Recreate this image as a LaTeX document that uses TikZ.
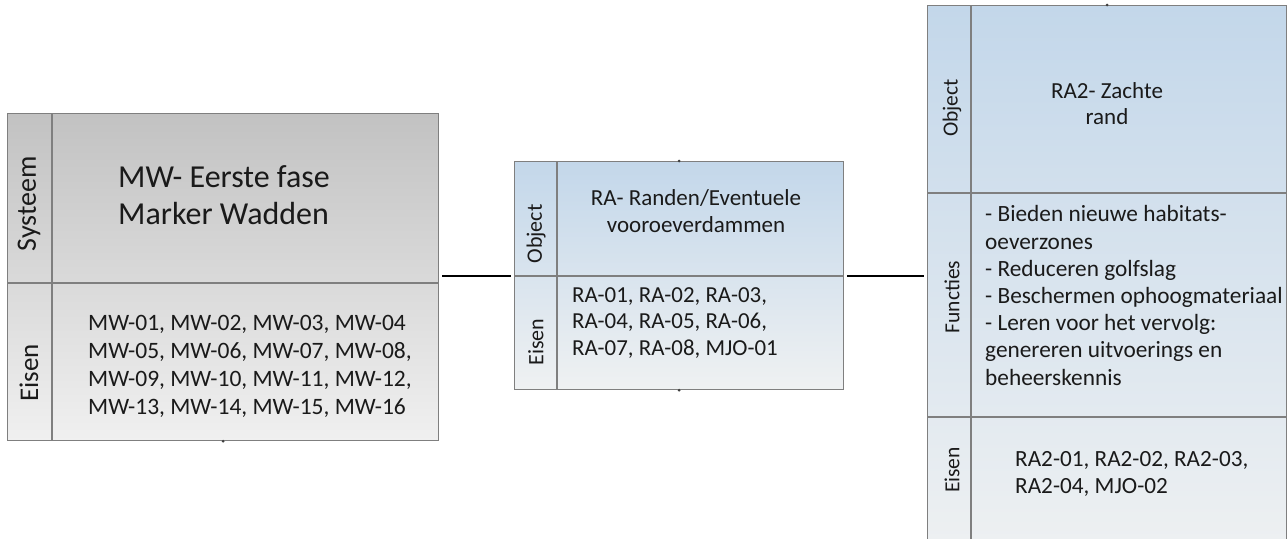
\documentclass[tikz,border=0pt]{standalone}
\usepackage{fontspec}
\setmainfont{Carlito}
\usetikzlibrary{positioning}

\definecolor{mwtop}{HTML}{C2C2C2}
\definecolor{mwbot}{HTML}{F0F0F0}
\definecolor{ratop}{HTML}{C3D7EA}
\definecolor{rabot}{HTML}{EFF1F2}
\definecolor{edge}{HTML}{7F7F7F}
\definecolor{ink}{HTML}{1A1A1A}

\begin{document}
\begin{tikzpicture}[x=1pt, y=-1pt,
    box/.style = {draw=edge, line width=1.2pt, inner sep=0pt, anchor=north west},
    divider/.style = {draw=edge, line width=1.2pt},
    link/.style = {draw=black, line width=2.2pt, shorten <=3pt, shorten >=3pt},
    side/.style = {rotate=90, text=ink, inner sep=0pt},
    txt/.style = {text=ink, inner sep=0pt, anchor=base west, align=left},
    handle/.style = {circle, fill=black!75, inner sep=0pt, minimum size=3pt}]
    \useasboundingbox (0,0) rectangle (1287,538);
    \clip (0,0) rectangle (1287,538);

    % boxes
    \node[box, top color=mwtop, bottom color=mwbot, minimum width=431pt, minimum height=327pt] (mw) at (7,113) {};
    \node[box, top color=ratop, bottom color=rabot, minimum width=329pt, minimum height=228pt] (ra) at (514,161) {};
    \node[box, top color=ratop, bottom color=rabot, minimum width=359pt, minimum height=560pt] (ra2) at (927,5) {};

    \draw[divider] (52,113) -- (52,440);
    \draw[divider] (7,283) -- (438,283);
    \draw[divider] (557,161) -- (557,389);
    \draw[divider] (514,276) -- (843,276);
    \draw[divider] (971,5) -- (971,565);
    \draw[divider] (927,193) -- (1286,193);
    \draw[divider] (927,417) -- (1286,417);

    \node[handle] at (mw.south) {};
    \node[handle] at (ra.north) {};
    \node[handle] at (ra.south) {};
    \node[handle] at (ra2.north) {};

    % side labels
    \node[side, font=\fontsize{28}{32}\selectfont] (mwsys) at (29,204) {Systeem};
    \node[side, font=\fontsize{27}{32}\selectfont] (mweis) at (29,373) {Eisen};
    \node[side, font=\fontsize{22}{26}\selectfont] (raobj) at (536,234) {Object};
    \node[side, font=\fontsize{22}{26}\selectfont] (raeis) at (536,342) {Eisen};
    \node[side, font=\fontsize{21.5}{25}\selectfont] (ra2obj) at (952,108) {Object};
    \node[side, font=\fontsize{21.5}{25}\selectfont] (ra2fun) at (952,297) {Functies};
    \node[side, font=\fontsize{21.5}{25}\selectfont] (ra2eis) at (952,470) {Eisen};

    % texts
    \node[txt, font=\fontsize{32}{37}\selectfont] (mwname) at (118,224) {MW- Eerste fase\\Marker Wadden};
    \node[txt, font=\fontsize{23.5}{27.7}\selectfont] (mwreq) at (88,414)
        {MW-01, MW-02, MW-03, MW-04\\MW-05, MW-06, MW-07, MW-08,\\MW-09, MW-10, MW-11, MW-12,\\MW-13, MW-14, MW-15, MW-16};
    \node[txt, anchor=base, align=center, font=\fontsize{23}{27}\selectfont] (raname) at (696,232) {RA- Randen/Eventuele\\vooroeverdammen};
    \node[txt, font=\fontsize{22.9}{26.5}\selectfont] (rareq) at (572,355) {RA-01, RA-02, RA-03,\\RA-04, RA-05, RA-06,\\RA-07, RA-08, MJO-01};
    \node[txt, anchor=base, align=center, font=\fontsize{23}{25.5}\selectfont] (ra2name) at (1107,124) {RA2- Zachte\\rand};
    \node[txt, font=\fontsize{23.3}{27.2}\selectfont] (ra2fn) at (985,385)
        {- Bieden nieuwe habitats-\\oeverzones\\- Reduceren golfslag\\- Beschermen ophoogmateriaal\\- Leren voor het vervolg:\\genereren uitvoerings en\\beheerskennis};
    \node[txt, font=\fontsize{23.2}{26.5}\selectfont] (ra2req) at (1015,493) {RA2-01, RA2-02, RA2-03,\\RA2-04, MJO-02};

    % connectors
    \draw[link] (mw.east |- ra.west) -- (ra.west);
    \draw[link] (ra.east) -- (ra.east -| ra2.west);
\end{tikzpicture}
\end{document}
